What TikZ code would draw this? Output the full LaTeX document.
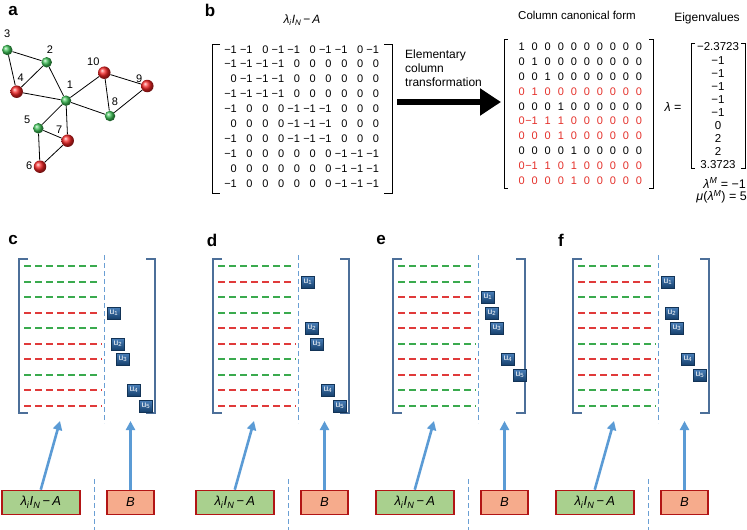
\documentclass[tikz,border=0pt]{standalone}
\usepackage{fontspec}
\setmainfont{Liberation Sans}
\usepackage{xcolor}
\usepackage{tikz}
\usetikzlibrary{arrows.meta,positioning,backgrounds}
\definecolor{netgreen}{HTML}{3CC055}
\definecolor{netred}{HTML}{F52525}
\definecolor{canred}{HTML}{E4302A}
\definecolor{rowgreen}{HTML}{3AAA4E}
\definecolor{rowred}{HTML}{E03A3A}
\definecolor{brkblue}{HTML}{4C6F99}
\definecolor{sepblue}{HTML}{6A9FD4}
\definecolor{arrowblue}{HTML}{5B9BD5}
\definecolor{lamfill}{HTML}{A9D08E}
\definecolor{bfill}{HTML}{F6AB8C}
\definecolor{boxred}{HTML}{B21515}
\definecolor{uboxtop}{HTML}{4A80BA}
\definecolor{uboxbot}{HTML}{16406C}

\newcommand{\lamexpr}{\textit{λ}\textsubscript{\textit{i}}\textit{I}\textsubscript{\textit{N}}\,−\,\textit{A}}

\tikzset{
    gball/.style={circle, inner sep=0pt, minimum size=10.5pt, ball color=netgreen},
    rball/.style={circle, inner sep=0pt, minimum size=12.5pt, ball color=netred},
    netlbl/.style={font=\fontsize{11}{11}\selectfont, inner sep=0pt},
    entry/.style={anchor=east, inner sep=0pt, font=\fontsize{11}{11}\selectfont},
    eig/.style={inner sep=0pt, font=\fontsize{11.5}{11.5}\selectfont},
    brk/.style={line width=0.6pt},
    rowline/.style={line width=1.4pt, dash pattern=on 6.7pt off 4.3pt},
    colbrk/.style={line width=2.4pt, draw=brkblue},
    sepline/.style={line width=1pt, draw=sepblue, dash pattern=on 5pt off 3pt},
    ubox/.style={inner sep=0pt, minimum width=13pt, minimum height=12pt, top color=uboxtop, bottom color=uboxbot, draw=uboxbot!80!black, line width=0.4pt, text=white, font=\fontsize{8.5}{8.5}\selectfont},
    lambox/.style={draw=boxred, line width=1.6pt, fill=lamfill, minimum width=78pt, minimum height=24pt, inner sep=0pt, font=\fontsize{13}{13}\selectfont},
    bbox/.style={draw=boxred, line width=1.6pt, fill=bfill, minimum width=47pt, minimum height=24pt, inner sep=0pt, font=\fontsize{13}{13}\selectfont},
    uparrow/.style={line width=2.6pt, draw=arrowblue, -{Triangle[length=9pt,width=9pt]}},
    panellbl/.style={inner sep=0pt, font=\fontsize{17}{17}\selectfont\bfseries},
}

\begin{document}
\begin{tikzpicture}[x=1pt, y=-1pt, font=\fontsize{12}{14}\selectfont]
\useasboundingbox (0,0) rectangle (747,530);

% ============================================================
% PANEL A: THE NETWORK
% ============================================================
\node[panellbl] (lbla) at (13,11) {a};
\foreach \n/\x/\y/\sty in {1/66/100.7/gball, 2/46.7/62.3/gball, 3/7.3/50/gball, 4/16.7/91.7/rball, 5/38.3/128.3/gball,
    6/40/166.7/rball, 7/67.7/140.7/rball, 8/110/116/gball, 9/147.3/86/rball, 10/104.3/72.7/rball}
    \node[\sty] (n\n) at (\x,\y) {};
\foreach \n/\x/\y in {1/70/85, 2/50/50, 3/7.3/34, 4/20.7/77.3, 5/27.3/120, 6/29.3/165.7, 7/59.3/130, 8/115/101.7, 9/139.3/78.3, 10/93.3/61.7}
    \node[netlbl] (t\n) at (\x,\y) {\n};
\begin{scope}[on background layer]
    \foreach \a/\b in {3/2, 3/4, 2/4, 2/1, 4/1, 1/10, 1/8, 10/9, 10/8, 9/8, 1/5, 1/7, 5/7, 5/6, 6/7}
        \draw[line width=0.8pt] (n\a) -- (n\b);
\end{scope}

% ============================================================
% PANEL B: COLUMN TRANSFORMATION
% ============================================================
\node[panellbl] (lblb) at (210,10) {b};
\node (lamtitle) at (302,20) {\lamexpr};

% Left matrix
\foreach \row [count=\r] in {{−1,−1,0,−1,−1,0,−1,−1,0,−1}, {−1,−1,−1,−1,0,0,0,0,0,0}, {0,−1,−1,−1,0,0,0,0,0,0},
    {−1,−1,−1,−1,0,0,0,0,0,0}, {−1,0,0,0,−1,−1,−1,0,0,0}, {0,0,0,0,−1,−1,−1,0,0,0}, {−1,0,0,0,−1,−1,−1,0,0,0},
    {−1,0,0,0,0,0,0,−1,−1,−1}, {0,0,0,0,0,0,0,−1,−1,−1}, {−1,0,0,0,0,0,0,−1,−1,−1}}
    \foreach \v [count=\c] in \row
        \node[entry] (L\r-\c) at ({237+15.8*(\c-1)},{49.3+14.9*(\r-1)}) {\v};
\draw[brk] (220,44) -- (212,44) -- (212,193) -- (220,193);
\draw[brk] (384,44) -- (392,44) -- (392,193) -- (384,193);

% Arrow
\node[anchor=north west, align=left, inner sep=0pt] (elem) at (405,50) {Elementary\\column\\transformation};
\coordinate (arrtail) at (397,102);
\coordinate (arrtip) at (501,102);
\draw[line width=6pt, -{Triangle[length=21pt,width=26pt]}] (arrtail) -- (arrtip);

% Canonical form
\node[font=\fontsize{11.5}{12}\selectfont] (cantitle) at (577,15) {Column canonical form};
\foreach \row/\rc [count=\r] in {{1,0,0,0,0,0,0,0,0,0}/black, {0,1,0,0,0,0,0,0,0,0}/black, {0,0,1,0,0,0,0,0,0,0}/black,
    {0,1,0,0,0,0,0,0,0,0}/canred, {0,0,0,1,0,0,0,0,0,0}/black, {0,−1,1,1,0,0,0,0,0,0}/canred,
    {0,0,0,1,0,0,0,0,0,0}/canred, {0,0,0,0,1,0,0,0,0,0}/black, {0,−1,1,0,1,0,0,0,0,0}/canred,
    {0,0,0,0,1,0,0,0,0,0}/canred}
    \foreach \v [count=\c] in \row
        \node[entry, text=\rc] (C\r-\c) at ({525+13.03*(\c-1)},{46.7+14.9*(\r-1)}) {\v};
\draw[brk] (508,39) -- (504,39) -- (504,188) -- (508,188);
\draw[brk] (649,39) -- (653,39) -- (653,188) -- (649,188);

% Eigenvalues
\node (eigtitle) at (707,18) {Eigenvalues};
\node[font=\fontsize{12.5}{12.5}\selectfont] (lameq) at (673,107) {\textit{λ} =};
\foreach \v [count=\k] in {−2.3723,−1,−1,−1,−1,−1,0,2,2,3.3723}
    \node[eig] (ev\k) at (718,{47+13.1*(\k-1)}) {\v};
\draw[brk] (695,43) -- (691,43) -- (691,168) -- (695,168);
\draw[brk] (741,43) -- (745,43) -- (745,168) -- (741,168);
\node[eig, anchor=east, font=\fontsize{12.5}{12.5}\selectfont] (lamM) at (746,183) {\textit{λ}\textsuperscript{\textit{M}} = −1};
\node[eig, anchor=east, font=\fontsize{12.5}{12.5}\selectfont] (muM) at (747,197) {\textit{μ}(\textit{λ}\textsuperscript{\textit{M}}) = 5};

% ============================================================
% PANELS C--F: CONTROLLABILITY SUBSPACES
% ============================================================
\foreach \Lx/\lab/\labx/\rb/\cols/\urows in {
    19/c/-6/136/{rowgreen,rowgreen,rowgreen,rowred,rowgreen,rowred,rowred,rowgreen,rowred,rowred}/{4,6,7,9,10},
    213/d/-1/136/{rowgreen,rowred,rowgreen,rowgreen,rowred,rowred,rowgreen,rowgreen,rowred,rowred}/{2,5,6,9,10},
    393/e/-12/132/{rowgreen,rowgreen,rowred,rowred,rowred,rowgreen,rowred,rowred,rowgreen,rowgreen}/{3,4,5,7,8},
    573/f/-12/136/{rowgreen,rowred,rowgreen,rowred,rowred,rowgreen,rowred,rowred,rowgreen,rowgreen}/{2,4,5,7,8}}
{
\begin{scope}[shift={(\Lx,0)}]
    \node[panellbl] (lbl\lab) at (\labx,240) {\lab};

    % Rows
    \foreach \rc [count=\r] in \cols {
        \ifnum\r>5 \ifnum\r=8 \def\xe{78}\else\def\xe{83}\fi\else\def\xe{78}\fi
        \pgfmathsetmacro{\ry}{round(266+15.5*(\r-1))}
        \draw[rowline, draw=\rc] (5,\ry) -- (\xe,\ry);
    }
    \draw[sepline] (85,255) -- (85,423);

    % Brackets
    \draw[colbrk] (9,259) -- (0,259) -- (0,413) -- (9,413);
    \draw[colbrk] ({\rb-9},259) -- (\rb,259) -- (\rb,413) -- ({\rb-9},413);

    % Driver nodes
    \foreach \ur [count=\k] in \urows {
        \pgfmathsetmacro{\ux}{{95,99,104,115,127}[\k-1]}
        \pgfmathsetmacro{\uy}{round(266+15.5*(\ur-1))}
        \node[ubox] (u\lab\k) at (\ux,\uy) {u\textsubscript{\k}};
    }

    % Boxes
    \node[lambox] (lam\lab) at (21.75,502.5) {\lamexpr};
    \node[bbox] (B\lab) at (111.5,502.5) {\textit{B}};
    \draw[sepline] (75.5,479) -- (75.5,530);
    \coordinate (tipL\lab) at (41,421);
    \coordinate (tipB\lab) at (111.5,421);
    \draw[uparrow] (lam\lab.north) -- (tipL\lab);
    \draw[uparrow] (B\lab.north) -- (tipB\lab);
\end{scope}
}

\end{tikzpicture}
\end{document}
